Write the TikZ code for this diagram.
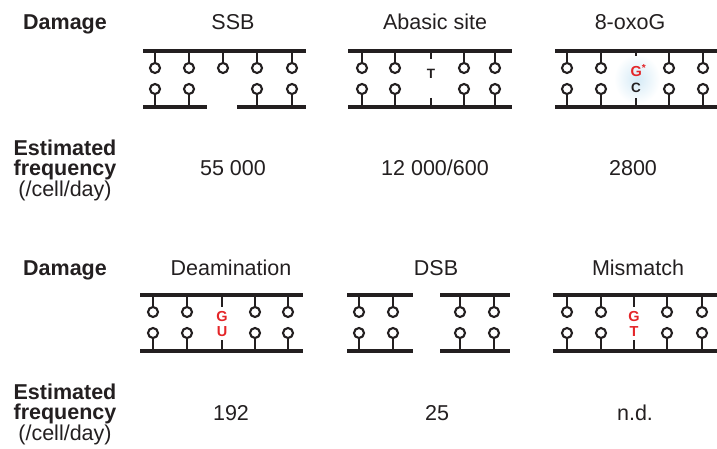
\documentclass[tikz,border=0pt]{standalone}
\usepackage{fontspec}
\setmainfont{Liberation Sans}
\definecolor{ink}{HTML}{231F20}
\definecolor{hit}{HTML}{E42528}
\definecolor{oxo}{HTML}{D4EAF6}

\begin{document}
\begin{tikzpicture}[x=1pt, y=-1pt,
	every node/.style={font=\fontsize{21.5}{20}\selectfont, text=ink, inner sep=0pt},
	head/.style={font=\fontsize{21.5}{20}\selectfont\bfseries},
	strand/.style={draw=ink, line width=3.3pt},
	stem/.style={draw=ink, line width=2.4pt},
	nt/.style={circle, draw=ink, line width=2.1pt, minimum size=10pt, fill=white},
	lesion/.style={font=\fontsize{14.5}{14.5}\selectfont\bfseries, text=hit}]
	\useasboundingbox (0,0) rectangle (717,449);

	% row headings
	\node[head, anchor=base] (dmgA) at (65,30) {Damage};
	\node[anchor=north, align=center] (freqA) at (65,139.5) {\textbf{Estimated}\\\textbf{frequency}\\(/cell/day)};
	\node[head, anchor=base] (dmgB) at (65,275) {Damage};
	\node[anchor=north, align=center] (freqB) at (65,383.5) {\textbf{Estimated}\\\textbf{frequency}\\(/cell/day)};

	% damage types
	\node[anchor=base] (ssb) at (233,30) {SSB};
	\node[anchor=base] (abasic) at (435,30) {Abasic site};
	\node[anchor=base] (oxog) at (630,30) {8-oxoG};
	\node[anchor=base] (deam) at (231,275) {Deamination};
	\node[anchor=base] (dsb) at (436,275) {DSB};
	\node[anchor=base] (mism) at (638,275) {Mismatch};

	% frequencies
	\node[anchor=base] (nSSB) at (233,176) {55 000};
	\node[anchor=base] (nAbasic) at (435,176) {12 000/600};
	\node[anchor=base] (nOxo) at (633,176) {2800};
	\node[anchor=base] (nDeam) at (231,420) {192};
	\node[anchor=base] (nDSB) at (437,420) {25};
	\node[anchor=base] (nMism) at (635,420) {n.d.};

	% SSB: nick in the lower strand
	\coordinate (ssbTop) at (143,51);
	\coordinate (ssbBot) at (143,107);
	\draw[strand] (ssbTop) -- (306,51);
	\draw[strand] (ssbBot) -- (207,107);
	\draw[strand] (237,107) -- (306,107);
	\foreach \x in {155,189,223,257,292} {
		\node[nt] (ssbU\x) at (\x,68) {};
		\draw[stem] (ssbU\x) -- (ssbU\x |- ssbTop);
	}
	\foreach \x in {155,189,257,292} {
		\node[nt] (ssbL\x) at (\x,89) {};
		\draw[stem] (ssbL\x) -- (ssbL\x |- ssbBot);
	}

	% abasic site
	\coordinate (abTop) at (348,51);
	\coordinate (abBot) at (348,107);
	\draw[strand] (abTop) -- (512,51);
	\draw[strand] (abBot) -- (512,107);
	\foreach \x in {362,395,464,495} {
		\node[nt] (abU\x) at (\x,68) {};
		\node[nt] (abL\x) at (\x,89) {};
		\draw[stem] (abU\x) -- (abU\x |- abTop);
		\draw[stem] (abL\x) -- (abL\x |- abBot);
	}
	\node[lesion, text=ink, font=\fontsize{13.5}{13.5}\selectfont\bfseries] (abT) at (431,74) {T};
	\coordinate (abGap) at (431,98);
	\draw[stem, shorten >=10pt] (abT.north |- abTop) -- (abT.north);
	\draw[stem] (abGap) -- (abGap |- abBot);

	% 8-oxoG
	\shade[inner color=oxo, outer color=white] (614,54) rectangle (660,104);
	\coordinate (oxTop) at (555,51);
	\coordinate (oxBot) at (555,107);
	\draw[strand] (oxTop) -- (717,51);
	\draw[strand] (oxBot) -- (717,107);
	\foreach \x in {567,601,669,703} {
		\node[nt] (oxU\x) at (\x,68) {};
		\node[nt] (oxL\x) at (\x,89) {};
		\draw[stem] (oxU\x) -- (oxU\x |- oxTop);
		\draw[stem] (oxL\x) -- (oxL\x |- oxBot);
	}
	\node[lesion, anchor=base west] (oxG) at (630.5,77) {G\textsuperscript{*}};
	\node[lesion, text=ink, font=\fontsize{13.5}{13.5}\selectfont\bfseries] (oxC) at (636,87.5) {C};
	\draw[stem, shorten >=9pt] (oxC.north |- oxTop) -- (oxC.north |- oxG.north);
	\draw[stem, shorten >=6pt] (oxC.south |- oxBot) -- (oxC.south);

	% deamination
	\coordinate (deTop) at (140,295);
	\coordinate (deBot) at (140,351);
	\draw[strand] (deTop) -- (303,295);
	\draw[strand] (deBot) -- (303,351);
	\foreach \x in {153,187,255,288} {
		\node[nt] (deU\x) at (\x,312) {};
		\node[nt] (deL\x) at (\x,333) {};
		\draw[stem] (deU\x) -- (deU\x |- deTop);
		\draw[stem] (deL\x) -- (deL\x |- deBot);
	}
	\node[lesion] (deG) at (222,317) {G};
	\node[lesion] (deU) at (222,332) {U};
	\draw[stem, shorten >=4.5pt] (deG.north |- deTop) -- (deG.north);
	\draw[stem, shorten >=3pt] (deU.south |- deBot) -- (deU.south);

	% DSB: both strands cut
	\coordinate (dsTop) at (347,295);
	\coordinate (dsBot) at (347,351);
	\draw[strand] (dsTop) -- (413,295);
	\draw[strand] (dsBot) -- (413,351);
	\draw[strand] (440,295) -- (510,295);
	\draw[strand] (440,351) -- (510,351);
	\foreach \x in {359,393,460,494} {
		\node[nt] (dsU\x) at (\x,312) {};
		\node[nt] (dsL\x) at (\x,333) {};
		\draw[stem] (dsU\x) -- (dsU\x |- dsTop);
		\draw[stem] (dsL\x) -- (dsL\x |- dsBot);
	}

	% mismatch
	\coordinate (mmTop) at (553,295);
	\coordinate (mmBot) at (553,351);
	\draw[strand] (mmTop) -- (717,295);
	\draw[strand] (mmBot) -- (717,351);
	\foreach \x in {567,601,667,702} {
		\node[nt] (mmU\x) at (\x,312) {};
		\node[nt] (mmL\x) at (\x,333) {};
		\draw[stem] (mmU\x) -- (mmU\x |- mmTop);
		\draw[stem] (mmL\x) -- (mmL\x |- mmBot);
	}
	\node[lesion] (mmG) at (634,317) {G};
	\node[lesion] (mmT) at (634,332) {T};
	\draw[stem, shorten >=4.5pt] (mmG.north |- mmTop) -- (mmG.north);
	\draw[stem, shorten >=3pt] (mmT.south |- mmBot) -- (mmT.south);
\end{tikzpicture}
\end{document}
